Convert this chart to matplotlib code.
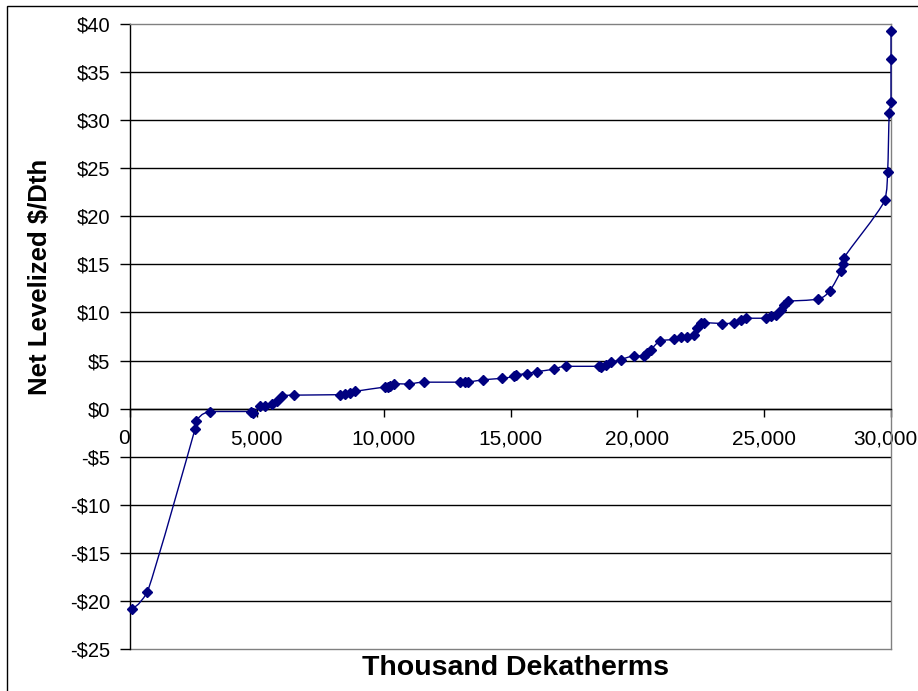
import numpy as np
import matplotlib
matplotlib.use("Agg")
import matplotlib.pyplot as plt
import matplotlib.transforms as mtransforms
from matplotlib.path import Path
from matplotlib.patches import PathPatch, Rectangle

# Data (thousand Dth, net levelized $/Dth)
supply_x = [91, 683, 2566, 2593, 3158, 4764, 4840, 5131, 5328, 5593, 5790, 5988,
            6446, 8289, 8486, 8683, 8881, 10065, 10180, 10262, 10392, 10984, 11576,
            13025, 13222, 13341, 13921, 14671, 15129, 15200, 15658, 16052, 16708,
            17169, 18484, 18551, 18748, 18946, 19340, 19865, 20260, 20394, 20524,
            20891, 21444, 21708, 21973, 22233, 22368, 22498, 22628, 23355, 23812,
            24077, 24274, 25064, 25261, 25459, 25656, 25786, 25920, 27104, 27580,
            28024, 28091, 28130, 29760, 29867, 29930, 30000, 30000, 30000]
cost_y = [-20.8, -19.1, -2.1, -1.3, -0.3, -0.3, -0.5, 0.25, 0.3, 0.5, 0.75, 1.3,
          1.4, 1.45, 1.55, 1.6, 1.8, 2.25, 2.3, 2.4, 2.6, 2.55, 2.75,
          2.75, 2.75, 2.75, 3.0, 3.15, 3.35, 3.5, 3.65, 3.85, 4.1,
          4.4, 4.4, 4.3, 4.55, 4.8, 5.1, 5.5, 5.45, 5.8, 6.1,
          7.0, 7.2, 7.4, 7.5, 7.7, 8.4, 8.9, 8.95, 8.85, 8.9,
          9.25, 9.4, 9.4, 9.6, 9.75, 10.3, 10.8, 11.15, 11.4, 12.25,
          14.3, 15.0, 15.65, 21.65, 24.6, 30.7, 31.85, 36.4, 39.3]

y_ticks = list(range(-25, 41, 5))
x_ticks = [0, 5000, 10000, 15000, 20000, 25000, 30000]
x_tick_labels = ["0", "5,000", "10,000", "15,000", "20,000", "25,000", "30,000"]
y_tick_labels = [("-$%d" % -v) if v < 0 else ("$%d" % v) for v in y_ticks]

NAVY = "#000080"
FONT = "Liberation Sans"

W, H = 918, 691
fig = plt.figure(figsize=(W / 100, H / 100), dpi=100)
fig.patch.set_facecolor("white")

# outer chart border
fig.patches.append(Rectangle((7 / W, -0.5), 2.0, 1.5 - 6 / H, transform=fig.transFigure,
                             fill=False, edgecolor="black", linewidth=1.0))

ax = fig.add_axes([130 / W, 1 - 649 / H, (891 - 130) / W, (649 - 24) / H])
ax.set_xlim(0, 30000)
ax.set_ylim(-25, 40)

# gridlines
for v in y_ticks:
    if -25 < v < 40:
        ax.axhline(v, color="black", linewidth=1.0, zorder=1)

# spines
for s in ["top", "right"]:
    ax.spines[s].set_color("#808080")
    ax.spines[s].set_linewidth(1.0)
ax.spines["left"].set_color("black")
ax.spines["left"].set_linewidth(1.0)
ax.spines["bottom"].set_position(("data", 0))
ax.spines["bottom"].set_color("black")
ax.spines["bottom"].set_linewidth(1.0)
ax.plot([0, 1], [0, 0], transform=ax.transAxes, color="#808080", linewidth=1.0,
        clip_on=False, zorder=0)

ax.set_yticks(y_ticks)
ax.set_yticklabels(y_tick_labels)
ax.set_xticks(x_ticks)
ax.set_xticklabels(x_tick_labels)
ax.tick_params(axis="y", direction="out", length=7, width=1, pad=7, labelsize=14.5,
               colors="black")
ax.tick_params(axis="x", direction="out", length=6, width=1, pad=9, labelsize=15,
               colors="black")
for lab in ax.get_xticklabels() + ax.get_yticklabels():
    lab.set_fontfamily(FONT)
# nudge the "0" and "30,000" labels as in the original
xl = ax.get_xticklabels()
xl[0].set_transform(xl[0].get_transform() +
                    mtransforms.ScaledTranslation(-6 / 100, 0, fig.dpi_scale_trans))
xl[-1].set_transform(xl[-1].get_transform() +
                     mtransforms.ScaledTranslation(-6 / 100, 0, fig.dpi_scale_trans))

# smoothed line (Excel-style bezier through the data points)
pts = np.column_stack([supply_x, cost_y]).astype(float)
n = len(pts)
verts = [pts[0]]
codes = [Path.MOVETO]
for i in range(n - 1):
    p0 = pts[i - 1] if i > 0 else pts[i]
    p1 = pts[i]
    p2 = pts[i + 1]
    p3 = pts[i + 2] if i + 2 < n else pts[i + 1]
    c1 = p1 + (p2 - p0) / 6.0
    c2 = p2 - (p3 - p1) / 6.0
    lo = np.minimum(p1, p2)
    hi = np.maximum(p1, p2)
    c1 = np.clip(c1, lo, hi)
    c2 = np.clip(c2, lo, hi)
    verts += [c1, c2, p2]
    codes += [Path.CURVE4] * 3
ax.add_patch(PathPatch(Path(verts, codes), facecolor="none", edgecolor=NAVY,
                       linewidth=1.0, zorder=3, clip_on=False))
ax.plot(supply_x, cost_y, linestyle="none", marker="D", markersize=5.5,
        color=NAVY, markeredgecolor=NAVY, zorder=4, clip_on=False)

fig.text(40 / W, 1 - 277 / H, "Net Levelized $/Dth", rotation=90, ha="center",
         va="center", fontsize=18.5, fontweight="bold", family=FONT)
fig.text(515 / W, 1 - 668 / H, "Thousand Dekatherms", ha="center", va="center",
         fontsize=20.5, fontweight="bold", family=FONT)

fig.savefig("out.png", dpi=100)
